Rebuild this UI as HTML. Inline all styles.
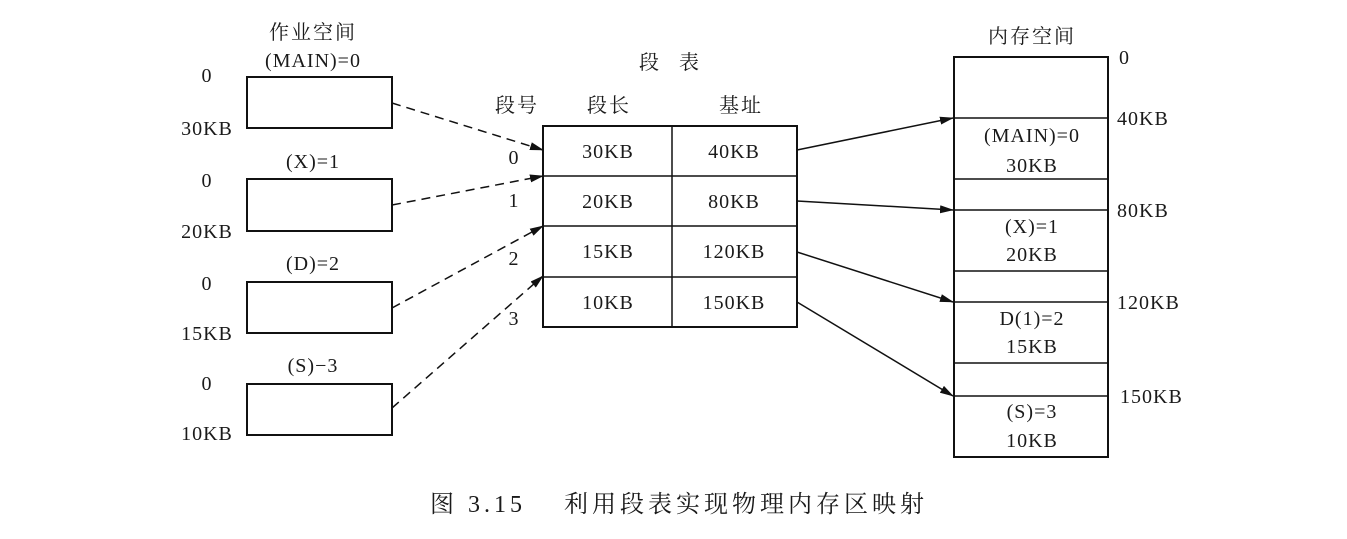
<!DOCTYPE html>
<html><head><meta charset="utf-8"><style>
body{margin:0;background:#fff}
svg text{font-family:"Liberation Serif","Noto Serif CJK SC",serif;font-size:20px;letter-spacing:1px;fill:#1a1a1a}
svg text.c{font-size:20px;letter-spacing:2px}
</style></head><body>
<svg width="1347" height="534" viewBox="0 0 1347 534" xmlns="http://www.w3.org/2000/svg">
<defs><marker id="a" markerWidth="14" markerHeight="8" refX="13" refY="4" orient="auto" markerUnits="userSpaceOnUse"><path d="M0,0 L14,4 L0,8 Z" fill="#111"/></marker></defs>
<g fill="none" stroke="#111" stroke-width="2">
<rect x="247" y="77" width="145" height="51"/>
<rect x="247" y="179" width="145" height="52"/>
<rect x="247" y="282" width="145" height="51"/>
<rect x="247" y="384" width="145" height="51"/>
<rect x="543" y="126" width="254" height="201"/>
<rect x="954" y="57" width="154" height="400"/>
</g>
<g stroke="#111" stroke-width="1.5">
<line x1="543" y1="176" x2="797" y2="176"/><line x1="543" y1="226" x2="797" y2="226"/><line x1="543" y1="277" x2="797" y2="277"/>
<line x1="672" y1="126" x2="672" y2="327"/>
<line x1="954" y1="118" x2="1108" y2="118"/><line x1="954" y1="179" x2="1108" y2="179"/><line x1="954" y1="210" x2="1108" y2="210"/><line x1="954" y1="271" x2="1108" y2="271"/><line x1="954" y1="302" x2="1108" y2="302"/><line x1="954" y1="363" x2="1108" y2="363"/><line x1="954" y1="396" x2="1108" y2="396"/>
</g>
<g stroke="#111" stroke-width="1.5" stroke-dasharray="9,6" marker-end="url(#a)">
<line x1="392" y1="103" x2="543" y2="150"/><line x1="392" y1="205" x2="543" y2="176"/><line x1="392" y1="308" x2="543" y2="226"/><line x1="392" y1="408" x2="543" y2="276"/>
</g>
<g stroke="#111" stroke-width="1.5" marker-end="url(#a)">
<line x1="797" y1="150" x2="953" y2="118"/><line x1="797" y1="201" x2="953" y2="210"/><line x1="797" y1="252" x2="953" y2="302"/><line x1="797" y1="302" x2="953" y2="396"/>
</g>
<g text-anchor="middle">
<text class="c" x="313" y="39">作业空间</text><text x="313" y="67">(MAIN)=0</text>
<text x="313" y="168">(X)=1</text><text x="313" y="270">(D)=2</text><text x="313" y="372">(S)−3</text>
<text x="207" y="82">0</text><text x="207" y="135">30KB</text>
<text x="207" y="187">0</text><text x="207" y="238">20KB</text>
<text x="207" y="290">0</text><text x="207" y="340">15KB</text>
<text x="207" y="390">0</text><text x="207" y="440">10KB</text>
<text class="c" x="669" y="69" style="letter-spacing:0">段　表</text>
<text class="c" x="517" y="112">段号</text><text class="c" x="609" y="112">段长</text><text class="c" x="741" y="112">基址</text>
<text x="514" y="164">0</text><text x="514" y="207">1</text><text x="514" y="265">2</text><text x="514" y="325">3</text>
<text x="608" y="158">30KB</text><text x="734" y="158">40KB</text>
<text x="608" y="208">20KB</text><text x="734" y="208">80KB</text>
<text x="608" y="258">15KB</text><text x="734" y="258">120KB</text>
<text x="608" y="309">10KB</text><text x="734" y="309">150KB</text>
<text class="c" x="1032" y="43">内存空间</text>
<text x="1032" y="142">(MAIN)=0</text><text x="1032" y="172">30KB</text>
<text x="1032" y="233">(X)=1</text><text x="1032" y="261">20KB</text>
<text x="1032" y="325">D(1)=2</text><text x="1032" y="353">15KB</text>
<text x="1032" y="418">(S)=3</text><text x="1032" y="447">10KB</text>
</g>
<text x="1119" y="64">0</text><text x="1117" y="125">40KB</text><text x="1117" y="217">80KB</text><text x="1117" y="309">120KB</text><text x="1120" y="403">150KB</text>
<text x="430" y="512" style="font-size:24px;letter-spacing:4px">图 3.15　 利用段表实现物理内存区映射</text>
</svg>
</body></html>
